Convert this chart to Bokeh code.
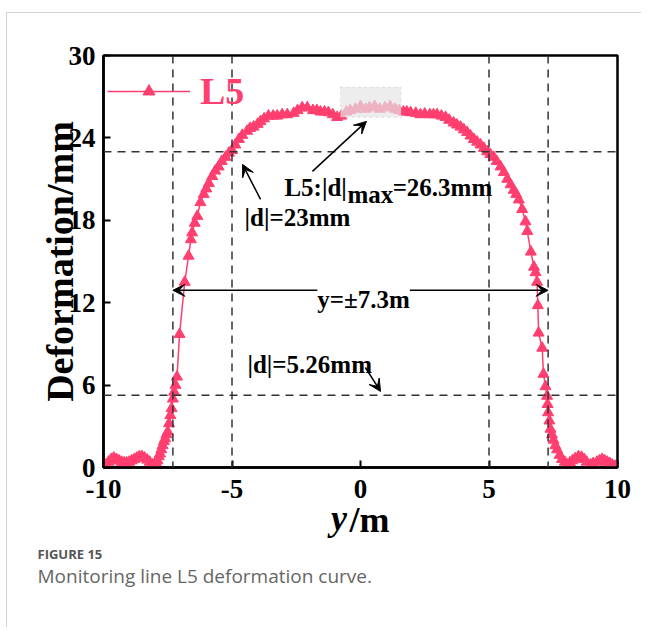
import math
from bokeh.plotting import figure
from bokeh.models import (Span, Label, Arrow, VeeHead, BoxAnnotation, Legend, LegendItem,
                          FixedTicker, Range1d, LinearAxis, Title)
from bokeh.embed import file_html
from bokeh.resources import INLINE

# ---- data ----
y_pos = [-10.0, -9.9, -9.8, -9.7, -9.6, -9.5, -9.4, -9.3, -9.2, -9.1, -9.0, -8.9, -8.8, -8.7,
         -8.6, -8.5, -8.4, -8.3, -8.2, -8.1, -8.0, -7.95, -7.9, -7.85, -7.8, -7.75, -7.7, -7.65,
         -7.6, -7.55, -7.5, -7.45, -7.4, -7.35, -7.3, -7.25, -7.2, -7.14, -7.04, -6.84, -6.69,
         -6.6, -6.55, -6.45, -6.35, -6.23, -6.1, -6.0, -5.9, -5.77, -5.65, -5.52, -5.4, -5.25,
         -5.12, -5.0, -4.87, -4.73, -4.6, -4.41, -4.3, -4.16, -4.0, -3.89, -3.75, -3.58, -3.4,
         -3.24, -3.05, -2.85, -2.6, -2.45, -2.27, -2.07, -1.85, -1.7, -1.56, -1.4, -1.25, -1.08,
         -0.91, -0.75, -0.55, -0.4, -0.2, 0.0, 0.2, 0.35, 0.55, 0.75, 0.95, 1.15, 1.35, 1.5,
         1.67, 1.8, 1.95, 2.15, 2.33, 2.5, 2.7, 2.84, 2.98, 3.15, 3.31, 3.45, 3.62, 3.75, 3.89,
         4.02, 4.15, 4.28, 4.41, 4.54, 4.67, 4.8, 4.93, 5.05, 5.18, 5.3, 5.45, 5.58, 5.71, 5.84,
         5.96, 6.06, 6.16, 6.29, 6.42, 6.49, 6.63, 6.75, 6.81, 6.87, 6.9, 6.93, 7.07, 7.12, 7.2,
         7.26, 7.28, 7.3, 7.35, 7.39, 7.45, 7.51, 7.58, 7.65, 7.75, 7.84, 7.95, 8.04, 8.15, 8.25,
         8.35, 8.48, 8.6, 8.7, 8.8, 8.95, 9.05, 9.2, 9.3, 9.4, 9.5, 9.6, 9.7, 9.79, 9.9, 10.0]
deform = [0.0, 0.2, 0.4, 0.6, 0.7, 0.6, 0.5, 0.4, 0.35, 0.35, 0.4, 0.5, 0.6, 0.7,
          0.8, 0.8, 0.7, 0.55, 0.4, 0.2, 0.1, 0.3, 0.5, 0.8, 1.0, 1.3, 1.6, 1.9,
          2.1, 2.4, 2.6, 3.2, 3.8, 4.3, 5.0, 5.5, 6.0, 6.6, 9.7, 13.5, 15.4,
          16.6, 17.1, 17.8, 18.3, 19.3, 19.9, 20.3, 20.7, 21.2, 21.6, 21.9, 22.3, 22.6,
          22.9, 23.1, 23.5, 23.9, 24.2, 24.5, 24.7, 24.8, 25.0, 25.2, 25.4, 25.6, 25.6,
          25.6, 25.7, 25.7, 25.8, 26.0, 26.2, 26.2, 26.0, 26.0, 25.9, 25.9, 25.85, 25.7,
          25.5, 25.6, 25.9, 26.0, 26.1, 26.3, 26.1, 26.2, 26.3, 26.1, 26.2, 26.3, 26.1, 26.0,
          25.9, 25.9, 25.85, 25.8, 25.7, 25.75, 25.7, 25.7, 25.7, 25.6, 25.5, 25.3, 25.1, 24.95, 24.8,
          24.6, 24.4, 24.15, 23.9, 23.7, 23.5, 23.25, 23.0, 22.8, 22.6, 22.3, 21.9, 21.5, 21.0, 20.6,
          20.2, 19.9, 19.5, 18.8, 17.9, 17.2, 15.7, 14.6, 14.2, 13.5, 11.8, 9.8, 8.7, 6.8, 5.9,
          5.2, 4.6, 4.0, 3.4, 2.8, 2.4, 2.0, 1.6, 1.3, 0.9, 0.6, 0.4, 0.2, 0.35, 0.5,
          0.65, 0.8, 0.75, 0.6, 0.4, 0.2, 0.3, 0.4, 0.5, 0.6, 0.5, 0.4, 0.3, 0.2, 0.1, 0.0]

x_ticks = [-10, -5, 0, 5, 10]
y_ticks = [0, 6, 12, 18, 24, 30]
ref_x = [-7.3, -5.0, 5.0, 7.3]      # vertical dashed reference lines
ref_y = [23.0, 5.26]                # horizontal dashed reference lines
series_name = "L5"
max_box = dict(left=-0.78, right=1.58, bottom=25.5, top=27.7)
width_span = 7.3
span_level = 12.9

PINK = "#FF3F6F"
SERIF = "Liberation Serif"

p = figure(frame_width=514, frame_height=412, output_backend="svg", toolbar_location=None,
           x_range=Range1d(-10, 10), y_range=Range1d(0, 30),
           min_border_left=96, min_border_right=24, min_border_top=42, min_border_bottom=160)
p.styles = {"border-left": "1px solid #d3d3d3", "border-top": "1px solid #d3d3d3",
            "transform": "translate(6px, 12px)"}
p.xgrid.visible = False
p.ygrid.visible = False
p.outline_line_color = "black"
p.outline_line_width = 2.5
p.outline_line_alpha = 1.0

for ax, ticks in ((p.xaxis[0], x_ticks), (p.yaxis[0], y_ticks)):
    ax.ticker = FixedTicker(ticks=ticks)
    ax.axis_line_width = 2.5
    ax.major_tick_in = 7
    ax.major_tick_out = 0
    ax.major_tick_line_width = 2
    ax.minor_tick_line_color = None
    ax.major_label_text_font = SERIF
    ax.major_label_text_font_style = "bold"
    ax.major_label_text_font_size = "27px"
    ax.major_label_text_color = "black"
p.xaxis.major_label_overrides = {t: str(t) for t in x_ticks}
p.xaxis.major_label_standoff = 12
p.yaxis.major_label_standoff = 8

p.yaxis.axis_label = "Deformation/mm"
p.yaxis.axis_label_text_font = SERIF
p.yaxis.axis_label_text_font_style = "bold"
p.yaxis.axis_label_text_font_size = "38px"
p.yaxis.axis_label_text_color = "black"
p.yaxis.axis_label_standoff = -15

# x title: italic "y" on the main axis, upright "/m" on a bare second axis pulled into the same row
p.xaxis.axis_label = "y\u2003\u2009"
p.xaxis.axis_label_text_font = SERIF
p.xaxis.axis_label_text_font_style = "bold italic"
p.xaxis.axis_label_text_font_size = "36px"
p.xaxis.axis_label_text_color = "black"
p.xaxis.axis_label_standoff = -3

ax2 = LinearAxis(ticker=FixedTicker(ticks=[]), axis_line_color=None,
                 major_tick_line_color=None, minor_tick_line_color=None,
                 major_label_text_font_size="0px",
                 axis_label="\u2002/m", axis_label_text_font=SERIF,
                 axis_label_text_font_style="bold", axis_label_text_font_size="36px",
                 axis_label_text_color="black", axis_label_standoff=-41)
p.add_layout(ax2, "below")

dash = "8 6"
for xv in ref_x:
    p.add_layout(Span(location=xv, dimension="height", line_color="#333333",
                      line_width=1.5, line_dash=dash))
for yv in ref_y:
    p.add_layout(Span(location=yv, dimension="width", line_color="#333333",
                      line_width=1.5, line_dash=dash))

ln = p.line(y_pos, deform, line_color=PINK, line_width=1.5)
sc = p.scatter(y_pos, deform, marker="triangle", size=11, fill_color=PINK, line_color=PINK)

legend = Legend(items=[LegendItem(label=series_name, renderers=[ln, sc])],
                location=(4, 354), glyph_width=83, glyph_height=30, label_height=30,
                label_standoff=10, padding=0, margin=0, spacing=0,
                label_text_font=SERIF, label_text_font_style="bold",
                label_text_font_size="38px", label_text_color=PINK,
                border_line_alpha=0, background_fill_alpha=0)
p.add_layout(legend)

p.add_layout(BoxAnnotation(fill_color="#e6e6e6", fill_alpha=0.7, line_color="#aaaaaa",
                           line_dash="dotted", line_width=1.2, **max_box))

ann = dict(text_font=SERIF, text_font_style="bold", text_font_size="25px", text_color="black",
           text_baseline="alphabetic")
p.add_layout(Label(x=-4.51, y=18.21, text="|d|=23mm", **ann))
p.add_layout(Label(x=-2.96, y=20.39, text="L5:|d|", **ann))
p.add_layout(Label(x=-0.51, y=19.88, text="max", **ann))
p.add_layout(Label(x=1.25, y=20.39, text="=26.3mm", **ann))
p.add_layout(Label(x=-4.40, y=7.5, text="|d|=5.26mm", **ann))

def arrow(x0, y0, x1, y1, start=False):
    p.add_layout(Arrow(x_start=x0, y_start=y0, x_end=x1, y_end=y1, line_color="black",
                       line_width=1.5,
                       end=VeeHead(size=12, fill_color="black", line_color="black", line_width=1),
                       start=VeeHead(size=12, fill_color="black", line_color="black", line_width=1) if start else None))

arrow(-3.89, 19.52, -4.59, 22.07)
arrow(-1.87, 21.56, 0.23, 25.2)
arrow(0.19, 7.28, 0.78, 5.54)
arrow(-width_span, span_level, width_span, span_level, start=True)
p.add_layout(Label(x=0.12, y=12.24, text="y=±7.3m", text_align="center",
                   background_fill_color="white", **ann))

# caption as titles below the plot (an invisible spacer first)
p.add_layout(Title(text=".", standoff=9, text_font_size="30px", text_alpha=0.0), "below")
p.add_layout(Title(text="FIGURE 15", align="left", offset=-66, standoff=0,
                   vertical_align="bottom",
                   text_font="Open Sans", text_font_style="bold", text_font_size="13px",
                   text_color="#555555"), "below")
p.add_layout(Title(text="Monitoring line L5 deformation curve.", align="left", offset=-66,
                   standoff=0, vertical_align="top", text_font="Open Sans",
                   text_font_style="normal", text_font_size="19px", text_color="#666666"),
             "below")

open("out.html", "w").write(file_html(p, INLINE))
